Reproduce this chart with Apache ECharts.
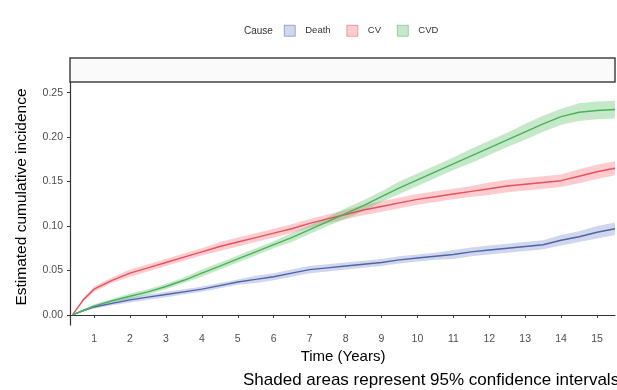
<!DOCTYPE html>
<html><head><meta charset="utf-8">
<script src="https://cdn.jsdelivr.net/npm/echarts@6/dist/echarts.min.js"></script>
<style>html,body{margin:0;padding:0;background:#fff}#c{width:617px;height:390px}</style>
</head><body><div id="c"></div>
<script>
const times = [0.4,0.7,1,1.5,2,2.5,3,3.5,4,4.5,5,5.5,6,6.5,7,7.5,8,8.5,9,9.5,10,10.5,11,11.5,12,12.5,13,13.5,14,14.5,15,15.5];
const deathVals = [0,0.005,0.009,0.013,0.017,0.020,0.023,0.026,0.029,0.033,0.037,0.040,0.043,0.047,0.051,0.053,0.055,0.057,0.059,0.062,0.064,0.066,0.068,0.071,0.073,0.075,0.077,0.079,0.084,0.088,0.093,0.097];
const cvVals = [0,0.017,0.029,0.039,0.047,0.053,0.059,0.065,0.071,0.077,0.082,0.087,0.092,0.097,0.103,0.108,0.113,0.118,0.122,0.126,0.130,0.133,0.136,0.139,0.142,0.145,0.147,0.149,0.151,0.156,0.161,0.165];
const cvdVals = [0,0.005,0.010,0.016,0.021,0.026,0.032,0.039,0.047,0.055,0.063,0.071,0.079,0.087,0.096,0.105,0.114,0.123,0.133,0.143,0.152,0.161,0.170,0.179,0.188,0.197,0.206,0.215,0.223,0.228,0.230,0.231];
const deathCI = [0,0.001,0.002,0.002,0.003,0.003,0.003,0.003,0.003,0.003,0.003,0.004,0.004,0.004,0.004,0.004,0.004,0.004,0.004,0.004,0.004,0.004,0.005,0.005,0.005,0.005,0.005,0.005,0.006,0.006,0.007,0.007];
const cvCI = [0,0.002,0.003,0.003,0.004,0.004,0.004,0.004,0.004,0.005,0.005,0.005,0.005,0.005,0.005,0.005,0.005,0.006,0.006,0.006,0.006,0.006,0.006,0.006,0.007,0.007,0.007,0.007,0.007,0.008,0.008,0.008];
const cvdCI = [0,0.001,0.002,0.002,0.003,0.003,0.003,0.003,0.004,0.004,0.004,0.004,0.004,0.005,0.005,0.005,0.006,0.006,0.006,0.007,0.007,0.007,0.007,0.008,0.008,0.008,0.009,0.009,0.009,0.010,0.010,0.010];
const groupNames = ['Death','CV','CVD'];
const legendTitle = 'Cause';
const xTicks = [1,2,3,4,5,6,7,8,9,10,11,12,13,14,15];
const yTicks = [0,0.05,0.10,0.15,0.20,0.25];
const xTitle = 'Time (Years)';
const yTitle = 'Estimated cumulative incidence';
const caption = 'Shaded areas represent 95% confidence intervals';

const FONT = 'Liberation Sans, Arial, sans-serif';
const lineColors = ['#4F63A8','#E8505B','#47B25A'];
const bandColors = ['rgba(120,140,200,0.35)','rgba(245,110,120,0.35)','rgba(90,190,100,0.35)'];
const valsAll = [deathVals, cvVals, cvdVals];
const ciAll = [deathCI, cvCI, cvdCI];

const chart = echarts.init(document.getElementById('c'), null, {renderer:'canvas'});
const series = [];
valsAll.forEach((vals, k) => {
  series.push({
    type:'custom', name: groupNames[k], silent:true, z:1,
    data:[[times[0], vals[0]]],
    renderItem: function(params, api){
      if (params.dataIndex !== 0) return;
      const pts = [];
      for (let i=0;i<times.length;i++) pts.push(api.coord([times[i], vals[i]+ciAll[k][i]]));
      for (let i=times.length-1;i>=0;i--) pts.push(api.coord([times[i], Math.max(0, vals[i]-ciAll[k][i])]));
      return {type:'polygon', shape:{points:pts}, style:{fill: bandColors[k]}};
    }
  });
});
valsAll.forEach((vals, k) => {
  series.push({
    type:'line', name: groupNames[k], showSymbol:false, z:3,
    data: times.map((t,i)=>[t, vals[i]]),
    lineStyle:{color: lineColors[k], width:1.4},
    itemStyle:{color: lineColors[k]}
  });
});

chart.setOption({
  animation:false,
  textStyle:{fontFamily:FONT},
  grid:{left:70, right:2, top:82, bottom:65},
  legend:{
    top:20, left:279, itemWidth:11, itemHeight:11, itemGap:16, icon:'rect',
    textStyle:{fontSize:9.5, color:'#333', padding:[0,0,0,5]},
    data: groupNames.map((n,k)=>({name:n, itemStyle:{color: bandColors[k], borderColor: lineColors[k], borderWidth:0.5}}))
  },
  xAxis:{
    type:'value', min:0.33, max:15.5,
    axisLine:{show:true, lineStyle:{color:'#333', width:1.2}},
    axisTick:{show:true, length:3, lineStyle:{color:'#333'}, customValues:xTicks},
    axisLabel:{color:'#4D4D4D', fontSize:10.5, margin:9, customValues:xTicks},
    splitLine:{show:false}
  },
  yAxis:{
    type:'value', min:-0.0113, max:0.262,
    axisLine:{show:true, lineStyle:{color:'#333', width:1.2}},
    axisTick:{show:true, length:3, lineStyle:{color:'#333'}, customValues:yTicks},
    axisLabel:{color:'#4D4D4D', fontSize:10.5, margin:7, customValues:yTicks, formatter: v => v.toFixed(2)},
    splitLine:{show:false}
  },
  graphic:[
    {type:'rect', shape:{x:70, y:58, width:545, height:24}, style:{fill:'#FAFAFA', stroke:'#444', lineWidth:1.5}},
    {type:'text', x:244, y:31, style:{text:legendTitle, fontSize:10, fill:'#333', fontFamily:FONT, textVerticalAlign:'middle'}},
    {type:'text', x:343, y:357, style:{text:xTitle, fontSize:15, fill:'#000', fontFamily:FONT, textAlign:'center', textVerticalAlign:'middle'}},
    {type:'text', x:22, y:197, rotation:Math.PI/2, style:{text:yTitle, fontSize:15.5, fill:'#000', fontFamily:FONT, textAlign:'center', textVerticalAlign:'middle'}},
    {type:'text', x:243, y:380, style:{text:caption, fontSize:17, fill:'#000', fontFamily:FONT, textVerticalAlign:'middle'}}
  ],
  series: series
});
</script>
</body></html>
